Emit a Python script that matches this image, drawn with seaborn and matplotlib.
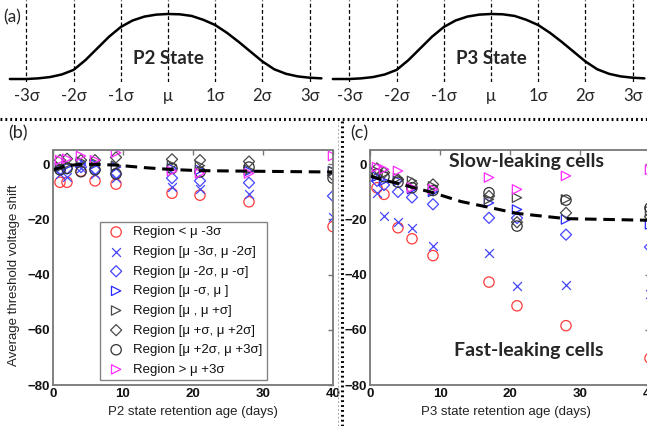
import matplotlib
matplotlib.use("Agg")
import matplotlib.pyplot as plt
from matplotlib.lines import Line2D
import seaborn as sns

sns.set_style("white")
plt.rcParams["font.family"] = ["Liberation Sans", "DejaVu Sans"]

# ----------------------------
# data
# ----------------------------
# (a) schematic distribution, x in units of sigma, height normalised
curve_x = [-3.35, -3.0, -2.75, -2.5, -2.25, -2.0, -1.75, -1.5, -1.25, -1.0, -0.75, -0.5, -0.25, 0.0,
           0.25, 0.5, 0.75, 1.0, 1.25, 1.5, 1.75, 2.0, 2.25, 2.5, 2.75, 3.0, 3.25]
curve_y = [0.0, 0.0, 0.01, 0.03, 0.07, 0.14, 0.29, 0.47, 0.65, 0.80, 0.90, 0.96, 0.99, 1.0,
           0.995, 0.97, 0.91, 0.83, 0.71, 0.57, 0.42, 0.27, 0.15, 0.08, 0.04, 0.02, 0.01]
sigma_ticks = [-3, -2, -1, 0, 1, 2, 3]
sigma_labels = ["-3σ", "-2σ", "-1σ", "μ", "1σ", "2σ", "3σ"]

# (b)/(c) retention ages
days = [1, 2, 4, 6, 9, 17, 21, 28, 40]
trend_days = [0, 1, 2, 4, 6, 9, 13, 17, 21, 28, 40]

region_labels = ["Region < μ -3σ", "Region [μ -3σ, μ -2σ]", "Region [μ -2σ, μ -σ]", "Region [μ -σ, μ ]",
                 "Region [μ , μ +σ]", "Region [μ +σ, μ +2σ]", "Region [μ +2σ, μ +3σ]", "Region > μ +3σ"]

# P2 state shifts
p2_below_3s = [-6.5, -6.5, -2.5, -6.0, -7.2, -10.5, -11.2, -13.6, -22.6]
p2_m3s_m2s = [-3.5, -4.5, -1.5, -3.5, -5.0, -8.4, -9.1, -10.8, -19.0]
p2_m2s_m1s = [-2.0, -1.5, -1.0, -2.0, -3.5, -5.0, -6.0, -6.7, -11.5]
p2_m1s_mu = [-1.0, -0.5, 0.5, 0.0, -1.0, -1.5, -2.0, -2.5, -2.5]
p2_mu_p1s = [-1.0, 0.0, 1.0, 0.5, -0.5, -0.3, -0.5, -2.0, -2.5]
p2_p1s_p2s = [1.5, 2.0, 1.5, 1.5, 2.5, 1.8, 1.5, 1.0, -4.0]
p2_p2s_p3s = [-2.0, -1.5, -2.7, -2.0, -3.5, -1.5, -2.8, -1.0, -5.0]
p2_above_3s = [1.5, 2.0, 3.0, 1.5, 4.2, -2.5, -3.3, -3.3, 3.0]
p2_trend = [-2.0, -1.2, -0.5, 0.0, 0.0, -0.3, -1.2, -1.9, -2.3, -2.5, -2.8]

# P3 state shifts
p3_below_3s = [-8.5, -10.9, -23.0, -27.0, -33.1, -42.7, -51.3, -58.5, -70.3]
p3_m3s_m2s = [-10.5, -18.8, -21.0, -23.0, -29.5, -32.1, -44.2, -43.6, -47.0]
p3_m2s_m1s = [-6.0, -7.5, -10.0, -12.0, -14.5, -19.4, -19.5, -25.5, -30.0]
p3_m1s_mu = [-4.5, -6.0, -6.0, -9.0, -10.0, -14.0, -16.4, -20.0, -21.8]
p3_mu_p1s = [-2.5, -3.5, -5.0, -6.0, -8.0, -12.7, -12.1, -12.7, -17.0]
p3_p1s_p2s = [-1.5, -3.0, -5.5, -7.0, -7.3, -11.5, -21.0, -17.6, -19.0]
p3_p2s_p3s = [-3.5, -4.5, -6.5, -8.5, -9.5, -10.3, -22.4, -13.0, -15.8]
p3_above_3s = [-1.0, -1.8, -2.4, -8.5, -9.0, -4.8, -9.1, -4.2, -2.0]
p3_trend = [-4.3, -5.0, -5.8, -6.9, -8.3, -10.3, -13.5, -15.6, -17.8, -19.7, -20.3]

markers = ["o", "x", "D", ">", ">", "D", "o", ">"]
colors = ["#ff3b3b", "#4646ff", "#4646ff", "#2b2bff", "#4a4a4a", "#4a4a4a", "#333333", "#ff2cff"]
sizes = [55, 40, 32, 45, 45, 32, 55, 45]

W, H = 647, 426


def px_box(x0, y0, x1, y1):
    return [x0 / W, 1 - y1 / H, (x1 - x0) / W, (y1 - y0) / H]


fig = plt.figure(figsize=(W / 100, H / 100), dpi=100)
top_font = ["Lato", "Noto Sans", "DejaVu Sans"]

# ----------------------------
# (a) schematic curves
# ----------------------------
for name, cx in [("P2 State", 168), ("P3 State", 491)]:
    ax = fig.add_axes(px_box(cx - 165.2, 0, cx + 165.2, 82))
    sns.lineplot(x=curve_x, y=curve_y, ax=ax, color="k", lw=1.8)
    for s in sigma_ticks:
        ax.axvline(s, color="k", lw=0.9, ls=(0, (3, 2)))
    ax.set_xlim(-3.5, 3.5)
    ax.set_ylim(-0.046, 1.215)
    ax.set_xticks(sigma_ticks)
    ax.set_xticklabels(sigma_labels, fontsize=12, family=top_font)
    ax.tick_params(axis="x", length=0, pad=4)
    ax.set_yticks([])
    sns.despine(ax=ax, left=True, bottom=True)
    ax.text(0, 0.31, name, ha="center", va="center", fontsize=13.5, fontweight="bold", family=top_font)
    ax.patch.set_alpha(0)

fig.text(3 / W, 1 - 17 / H, "(a)", fontsize=12.5, family=top_font, va="center")

# ----------------------------
# (b) and (c) scatter panels
# ----------------------------
p2_series = [p2_below_3s, p2_m3s_m2s, p2_m2s_m1s, p2_m1s_mu, p2_mu_p1s, p2_p1s_p2s, p2_p2s_p3s, p2_above_3s]
p3_series = [p3_below_3s, p3_m3s_m2s, p3_m2s_m1s, p3_m1s_mu, p3_mu_p1s, p3_p1s_p2s, p3_p2s_p3s, p3_above_3s]

panels = [(53, p2_series, p2_trend, "P2 state retention age (days)", 0.5),
          (370, p3_series, p3_trend, "P3 state retention age (days)", 0.484)]
axes = []
for left, series, trend, xlabel, xl_pos in panels:
    ax = fig.add_axes(px_box(left, 150.5, left + 280, 385))
    for vals, m, c, s, lab in zip(series, markers, colors, sizes, region_labels):
        if m == "x":
            sns.scatterplot(x=days, y=vals, ax=ax, marker=m, color=c, s=s, linewidth=0.9, label=lab)
        else:
            sns.scatterplot(x=days, y=vals, ax=ax, marker=m, color=c, facecolor="none",
                            edgecolor=c, s=s, linewidth=0.9, label=lab)
    sns.lineplot(x=trend_days, y=trend, ax=ax, color="k", lw=2.2, ls=(0, (3.8, 2.2)))
    ax.set_xlim(0, 40)
    ax.set_ylim(-80, 5)
    ax.set_xticks([0, 10, 20, 30, 40])
    ax.set_yticks([0, -20, -40, -60, -80])
    ax.tick_params(direction="in", length=3.5, width=1, color="#777777", top=True, right=True,
                   labelsize=9.5, pad=2, labelcolor="#111111")
    for t in ax.get_xticklabels() + ax.get_yticklabels():
        t.set_fontweight("bold")
    for sp in ax.spines.values():
        sp.set_color("#777777")
        sp.set_linewidth(1.3)
    ax.set_xlabel(xlabel, fontsize=9.5, color="#222222")
    ax.xaxis.set_label_coords(xl_pos, -0.088)
    ax.set_ylabel("")
    ax.get_legend().remove()
    axes.append(ax)

ax_b, ax_c = axes
ax_b.set_ylabel("Average threshold voltage shift", fontsize=9.5, color="#222222")
ax_b.yaxis.set_label_coords(-0.118, 0.47)

handles, labels = ax_b.get_legend_handles_labels()
leg = ax_b.legend(handles[:8], labels[:8], loc="lower left", bbox_to_anchor=(0.168, 0.021),
                  frameon=True, fancybox=False, fontsize=9.5, labelspacing=0.56, handlelength=1.8,
                  handletextpad=0.4, borderpad=0.32, borderaxespad=0, labelcolor="#111111")
leg.get_frame().set_edgecolor("#666666")
leg.get_frame().set_linewidth(1.0)

ax_c.text(22.3, 0.9, "Slow-leaking cells", ha="center", va="center", fontsize=14,
          fontweight="bold", family=top_font)
ax_c.text(22.7, -67.5, "Fast-leaking cells", ha="center", va="center", fontsize=14,
          fontweight="bold", family=top_font)

fig.text(8 / W, 1 - 133 / H, "(b)", fontsize=13, family=top_font, va="center")
fig.text(350 / W, 1 - 133 / H, "(c)", fontsize=13, family=top_font, va="center")

# separators
fig.add_artist(Line2D([0, 1], [1 - 118.5 / H, 1 - 118.5 / H], transform=fig.transFigure,
                      color="k", lw=2.2, ls=(0, (0.6, 1.0))))
fig.add_artist(Line2D([341.7 / W, 341.7 / W], [0, 1 - 118.5 / H], transform=fig.transFigure,
                      color="k", lw=2.2, ls=(0, (0.6, 1.0))))
fig.add_artist(Line2D([337.5 / W, 337.5 / W], [0, 1 - 122 / H], transform=fig.transFigure,
                      color="#aaaaaa", lw=0.7, ls=(0, (2, 2))))

fig.savefig("out.png", dpi=100)
